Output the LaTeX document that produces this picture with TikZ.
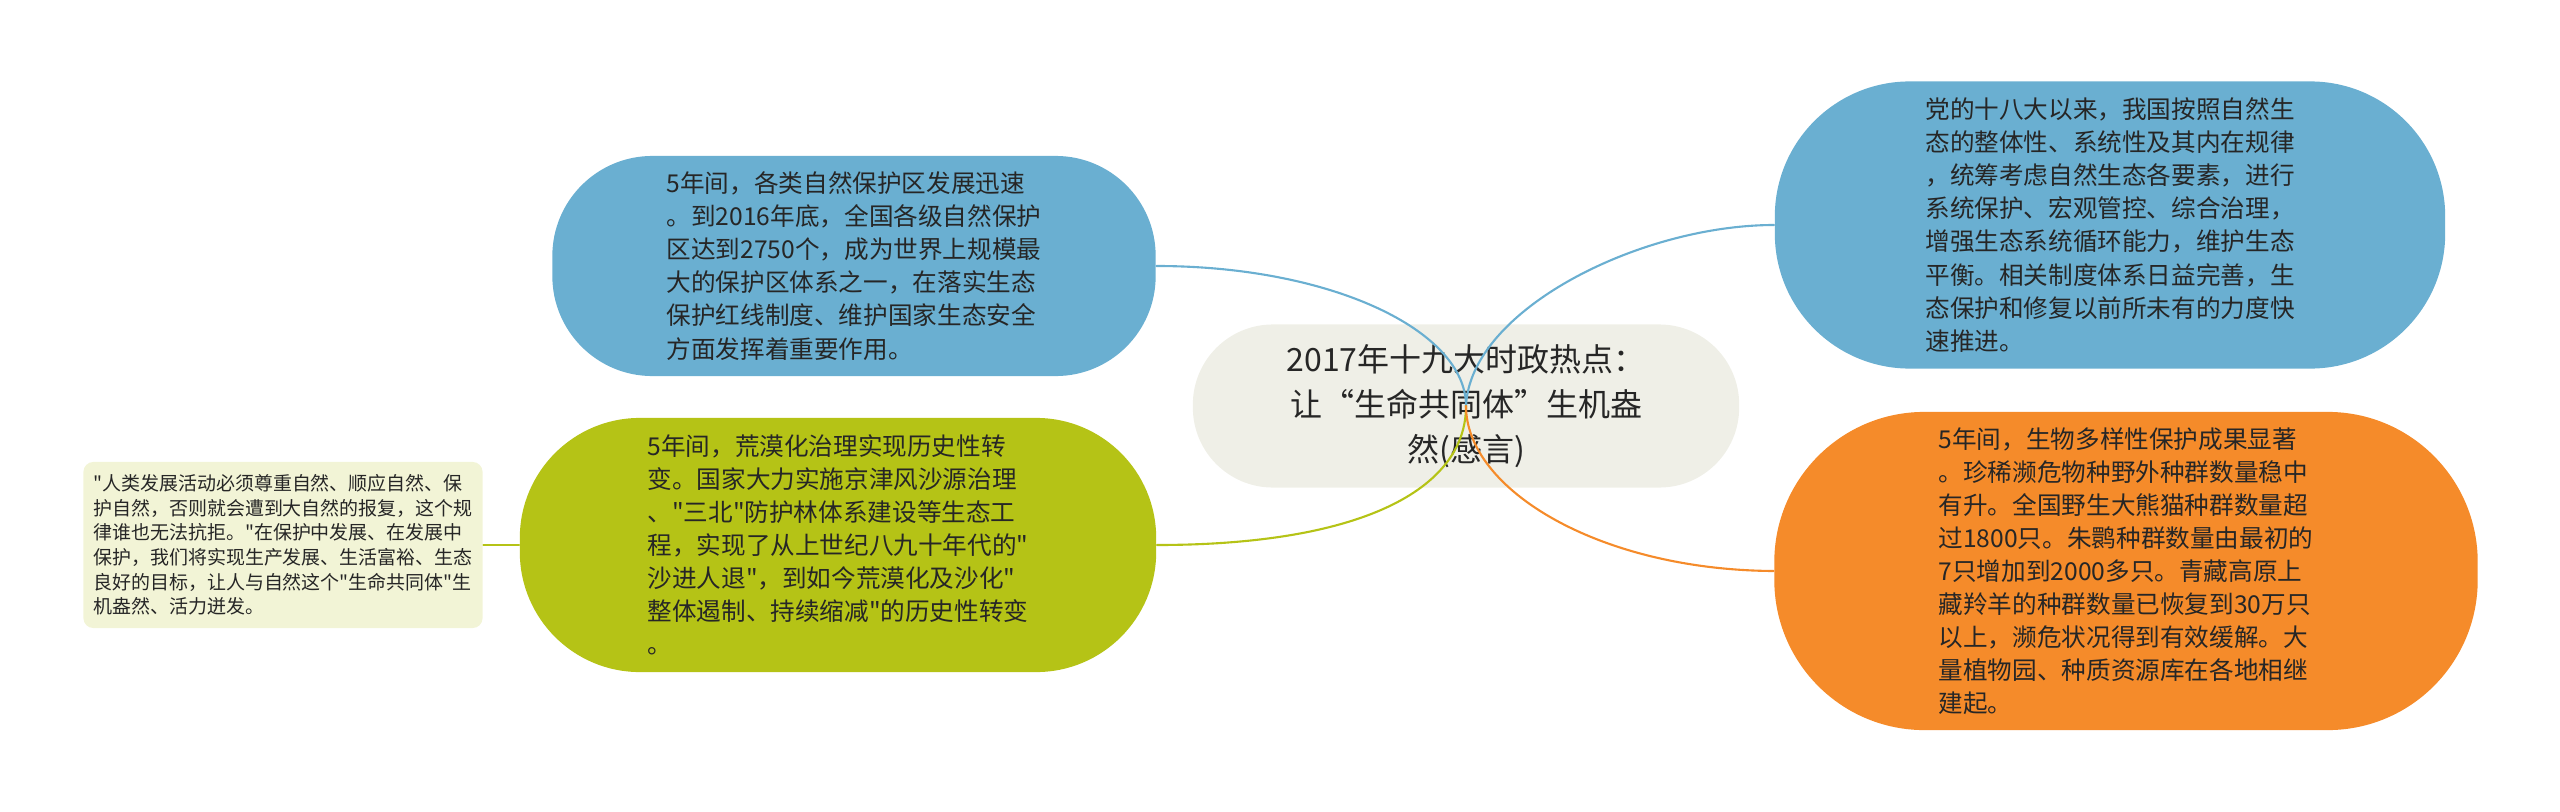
\documentclass[tikz,border=0pt]{standalone}
\usepackage{fontspec}
\setmainfont{Noto Sans CJK SC}[Ligatures=TeXOff]
\usepackage{tikz}
\usetikzlibrary{positioning}
\definecolor{topicblue}{RGB}{106,175,209}
\definecolor{topicorange}{RGB}{245,139,42}
\definecolor{topicgreen}{RGB}{181,195,22}
\definecolor{rootgray}{RGB}{239,239,231}
\definecolor{notefill}{RGB}{242,244,214}
\tikzset{
  root/.style={rectangle, inner sep=0pt, align=center, fill=rootgray,
    text=black!85, font=\fontsize{9.1pt}{12.7pt}\selectfont},
  topic/.style={rectangle, inner sep=0pt, align=left, text=black!85,
    font=\fontsize{7pt}{9.4pt}\selectfont},
  note/.style={rectangle, inner sep=0pt, align=left, fill=notefill,
    rounded corners=0.1cm, text=black!85,
    font=\fontsize{5.4pt}{7pt}\selectfont},
  branch/.style={line width=0.6pt}
}

\begin{document}
\begin{tikzpicture}[x=0.01cm, y=-0.01cm, line cap=round]
    \useasboundingbox (0,0) rectangle (2560,812);

    % centre
    \node[root, minimum width=5.46cm, minimum height=1.63cm,
      rounded corners=0.8cm] (root) at (1466,406)
      {2017年十九大时政热点：\\让“生命共同体”生机盎\\然(感言)};

    % left side
    \node[topic, fill=topicblue, minimum width=6.03cm, minimum height=2.2cm,
      rounded corners=1.0cm] (reserve) at (854,266)
      {5年间，各类自然保护区发展迅速\\
       。到2016年底，全国各级自然保护\\
       区达到2750个，成为世界上规模最\\
       大的保护区体系之一，在落实生态\\
       保护红线制度、维护国家生态安全\\
       方面发挥着重要作用。};
    \node[topic, fill=topicgreen, minimum width=6.36cm, minimum height=2.54cm,
      rounded corners=1.2cm] (desert) at (838,545)
      {5年间，荒漠化治理实现历史性转\\
       变。国家大力实施京津风沙源治理\\
       、"三北"防护林体系建设等生态工\\
       程，实现了从上世纪八九十年代的"\\
       沙进人退"，到如今荒漠化及沙化"\\
       整体遏制、持续缩减"的历史性转变\\
       。};
    \node[note, minimum width=3.99cm, minimum height=1.66cm] (quote) at (283,545)
      {"人类发展活动必须尊重自然、顺应自然、保\\
       护自然，否则就会遭到大自然的报复，这个规\\
       律谁也无法抗拒。"在保护中发展、在发展中\\
       保护，我们将实现生产发展、生活富裕、生态\\
       良好的目标，让人与自然这个"生命共同体"生\\
       机盎然、活力迸发。};

    % right side
    \node[topic, fill=topicblue, minimum width=6.7cm, minimum height=2.87cm,
      rounded corners=1.35cm] (policy) at (2110,225)
      {党的十八大以来，我国按照自然生\\
       态的整体性、系统性及其内在规律\\
       ，统筹考虑自然生态各要素，进行\\
       系统保护、宏观管控、综合治理，\\
       增强生态系统循环能力，维护生态\\
       平衡。相关制度体系日益完善，生\\
       态保护和修复以前所未有的力度快\\
       速推进。};
    \node[topic, fill=topicorange, minimum width=7.03cm, minimum height=3.18cm,
      rounded corners=1.5cm] (species) at (2126,571)
      {5年间，生物多样性保护成果显著\\
       。珍稀濒危物种野外种群数量稳中\\
       有升。全国野生大熊猫种群数量超\\
       过1800只。朱鹮种群数量由最初的\\
       7只增加到2000多只。青藏高原上\\
       藏羚羊的种群数量已恢复到30万只\\
       以上，濒危状况得到有效缓解。大\\
       量植物园、种质资源库在各地相继\\
       建起。};

    % branches
    \draw[branch, topicblue] (root.center) .. controls (1466,330) and (1330,266) .. (reserve.east);
    \draw[branch, topicblue] (root.center) .. controls (1470,310) and (1640,225) .. (policy.west);
    \draw[branch, topicgreen] (root.center) .. controls (1466,490) and (1360,545) .. (desert.east);
    \draw[branch, topicorange] (root.center) .. controls (1466,490) and (1600,570) .. (species.west);
    \draw[branch, topicgreen] (desert.west) -- (quote.east);

\end{tikzpicture}
\end{document}
